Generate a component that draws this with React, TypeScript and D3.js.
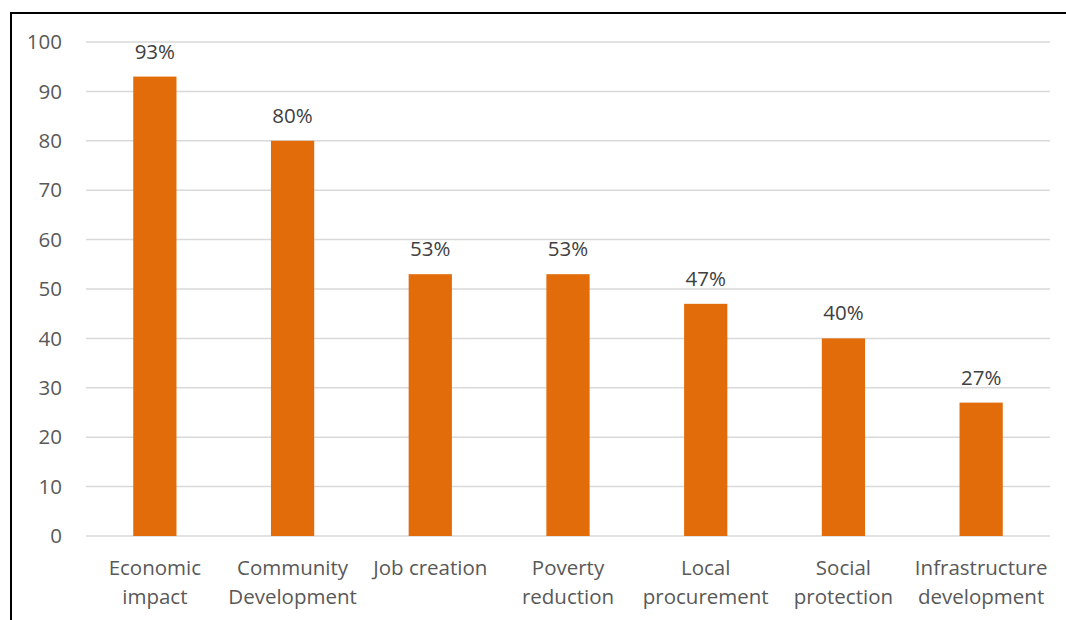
import React from "react";
import * as d3 from "d3";

const categories: string[][] = [
  ["Economic", "impact"],
  ["Community", "Development"],
  ["Job creation"],
  ["Poverty", "reduction"],
  ["Local", "procurement"],
  ["Social", "protection"],
  ["Infrastructure", "development"],
];
const values: number[] = [93, 80, 53, 53, 47, 40, 27];
const yTicks: number[] = [0, 10, 20, 30, 40, 50, 60, 70, 80, 90, 100];

const W = 1066;
const H = 620;
const FONT = "'Open Sans', 'Noto Sans', sans-serif";
const TEXT = "#595959";
const BAR = "#E36C0A";
const FS = 20.5;

export default function App() {
  const x = d3
    .scaleBand<number>()
    .domain(values.map((_, i) => i))
    .range([86, 1050])
    .padding(0);
  const y = d3.scaleLinear().domain([0, 100]).range([536, 42]);
  const bw = x.bandwidth() * 0.314;

  return (
    <svg
      width={W}
      height={H}
      style={{ position: "fixed", left: 0, top: 0, background: "#fff" }}
    >
      <rect x={0} y={0} width={W} height={H} fill="#fff" />
      <line x1={10} y1={13} x2={W} y2={13} stroke="#000" strokeWidth={2} />
      <line x1={11} y1={12} x2={11} y2={H} stroke="#000" strokeWidth={2} />
      {yTicks.map((t) => (
        <g key={t}>
          <line
            x1={86}
            x2={1050}
            y1={y(t)}
            y2={y(t)}
            stroke="#d9d9d9"
            strokeWidth={1.5}
          />
          <text
            x={62}
            y={y(t)}
            dy="0.35em"
            textAnchor="end"
            fontFamily={FONT}
            fontSize={FS}
            fill={TEXT}
          >
            {t}
          </text>
        </g>
      ))}
      {values.map((v, i) => {
        const cx = (x(i) as number) + x.bandwidth() / 2;
        return (
          <g key={i}>
            <rect
              x={cx - bw / 2}
              y={y(v)}
              width={bw}
              height={y(0) - y(v)}
              fill={BAR}
            />
            <text
              x={cx}
              y={y(v) - 18}
              textAnchor="middle"
              fontFamily={FONT}
              fontSize={FS}
              fill="#404040"
            >
              {v}%
            </text>
            {categories[i].map((line, j) => (
              <text
                key={j}
                x={cx}
                y={575 + j * 28.5}
                textAnchor="middle"
                fontFamily={FONT}
                fontSize={FS}
                fill={TEXT}
              >
                {line}
              </text>
            ))}
          </g>
        );
      })}
    </svg>
  );
}
